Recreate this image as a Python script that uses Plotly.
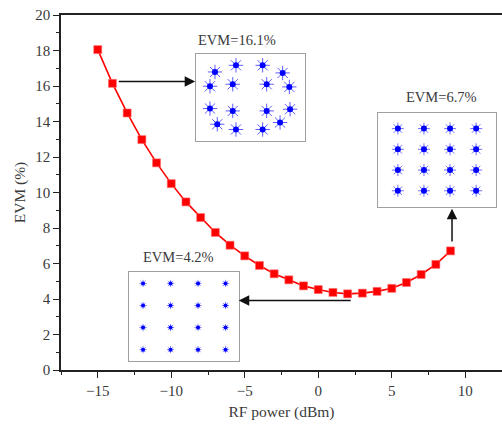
import plotly.graph_objects as go

# Main curve
rf_power = [-15, -14, -13, -12, -11, -10, -9, -8, -7, -6, -5, -4, -3, -2, -1,
            0, 1, 2, 3, 4, 5, 6, 7, 8, 9]
evm = [18.05, 16.15, 14.48, 12.98, 11.67, 10.5, 9.47, 8.59, 7.75, 7.03, 6.43,
       5.89, 5.42, 5.08, 4.74, 4.53, 4.37, 4.29, 4.33, 4.43, 4.6, 4.93, 5.38,
       5.95, 6.71]

x_ticks = [-15, -10, -5, 0, 5, 10]
y_ticks = [0, 2, 4, 6, 8, 10, 12, 14, 16, 18, 20]

# Constellation cluster centres (I/Q) for each inset
i_161 = [-1.22, 1.02, -2.98, 2.70, -3.4, -1.49, 1.36, 3.26,
         -3.4, -1.49, 1.36, 3.32, -2.79, -1.22, 1.02, 2.48]
q_161 = [3.37, 3.37, 2.67, 2.57, 1.17, 1.38, 1.38, 1.10,
         -1.17, -1.42, -1.42, -1.24, -2.82, -3.37, -3.37, -2.64]
i_67 = [-3, -1, 1, 3, -3, -1, 1, 3, -3, -1, 1, 3, -3, -1, 1, 3]
q_67 = [3, 3, 3, 3, 1, 1, 1, 1, -1, -1, -1, -1, -3, -3, -3, -3]
i_42 = [-3, -1, 1, 3, -3, -1, 1, 3, -3, -1, 1, 3, -3, -1, 1, 3]
q_42 = [3, 3, 3, 3, 1, 1, 1, 1, -1, -1, -1, -1, -3, -3, -3, -3]

labels = ["EVM=16.1%", "EVM=6.7%", "EVM=4.2%"]

FONT = "Liberation Serif, Times New Roman, serif"
TXT = "#3a3a3a"
BLUE = "#0000ff"

fig = go.Figure()

fig.add_trace(go.Scatter(
    x=rf_power, y=evm, mode="lines+markers",
    line=dict(color="#ff0000", width=1.6),
    marker=dict(symbol="square", size=8, color="#ff0000",
                line=dict(color="#ff7070", width=0.6)),
    showlegend=False, xaxis="x", yaxis="y"))

insets = [
    (i_161, q_161, "x2", "y2", 12, 0.8, 6),
    (i_67, q_67, "x3", "y3", 10, 0.7, 6),
    (i_42, q_42, "x4", "y4", 6, 0.6, 4),
]
for ii, qq, xa, ya, s1, w1, s2 in insets:
    fig.add_trace(go.Scatter(
        x=ii, y=qq, mode="markers", xaxis=xa, yaxis=ya, showlegend=False,
        marker=dict(symbol="asterisk-open", size=s1, opacity=0.8,
                    line=dict(color=BLUE, width=w1), color=BLUE)))
    fig.add_trace(go.Scatter(
        x=ii, y=qq, mode="markers", xaxis=xa, yaxis=ya, showlegend=False,
        marker=dict(symbol="circle", size=s2, color=BLUE)))

inset_axis = dict(showticklabels=False, ticks="", showgrid=False,
                  zeroline=False, showline=True, mirror=True,
                  linecolor="#a0a0a0", linewidth=1, fixedrange=True,
                  automargin=False)

fig.update_layout(
    width=502, height=426,
    margin=dict(l=61, r=0, t=15, b=56, autoexpand=False),
    paper_bgcolor="white", plot_bgcolor="white",
    font=dict(family=FONT, size=14, color=TXT),
    xaxis=dict(
        range=[-17.5, 12.5], tickvals=x_ticks, ticks="outside", ticklen=6,
        tickwidth=1.3, tickcolor="#222", showline=True, linecolor="#222",
        linewidth=1.5, mirror=True, showgrid=False, zeroline=False,
        automargin=False,
        tickfont=dict(size=15, family=FONT, color=TXT),
        minor=dict(dtick=2.5, tick0=0, ticks="outside", ticklen=3.5,
                   tickwidth=1.2, tickcolor="#222", showgrid=False),
        title=dict(text="RF power (dBm)", standoff=8,
                   font=dict(size=15.5, family=FONT, color=TXT)),
        domain=[0, 1]),
    yaxis=dict(
        range=[0, 20], tickvals=y_ticks, ticks="outside", ticklen=6,
        tickwidth=1.3, tickcolor="#222", showline=True, linecolor="#222",
        linewidth=1.5, mirror=False, showgrid=False, zeroline=False,
        automargin=False,
        tickfont=dict(size=15, family=FONT, color=TXT),
        minor=dict(dtick=1, tick0=0, ticks="outside", ticklen=3.5,
                   tickwidth=1.2, tickcolor="#222", showgrid=False),
        title=dict(text="EVM (%)", standoff=6,
                   font=dict(size=15.5, family=FONT, color=TXT)),
        domain=[0, 1]),
    xaxis2=dict(inset_axis, domain=[0.3054, 0.554], range=[-4.6, 4.6], anchor="y2"),
    yaxis2=dict(inset_axis, domain=[0.6445, 0.8913], range=[-4.6, 4.6], anchor="x2"),
    xaxis3=dict(inset_axis, domain=[0.7195, 0.9857], range=[-4.5, 4.5], anchor="y3"),
    yaxis3=dict(inset_axis, domain=[0.4596, 0.7253], range=[-4.55, 4.55], anchor="x3"),
    xaxis4=dict(inset_axis, domain=[0.1549, 0.4043], range=[-4, 4], anchor="y4"),
    yaxis4=dict(inset_axis, domain=[0.0262, 0.275], range=[-4, 4], anchor="x4"),
)

# Inset titles
for txt, xx, yy in [(labels[0], -5.5, 18.57), (labels[1], 8.4, 15.36),
                    (labels[2], -9.52, 6.34)]:
    fig.add_annotation(x=xx, y=yy, xref="x", yref="y", text=txt,
                       showarrow=False,
                       font=dict(size=14.5, family=FONT, color=TXT))

# Arrows
arrow_style = dict(xref="x", yref="y", axref="x", ayref="y", text="",
                   showarrow=True, arrowhead=2, arrowsize=1.4,
                   arrowwidth=1.5, arrowcolor="#111")
fig.add_annotation(x=-8.37, y=16.26, ax=-13.67, ay=16.26, **arrow_style)
fig.add_annotation(x=9.1, y=9.08, ax=9.1, ay=7.16, **arrow_style)
fig.add_annotation(x=-5.41, y=3.92, ax=2.31, ay=3.92, **arrow_style)

fig.write_html(
    "out.html",
    config={"displayModeBar": False},
    post_script="document.body.style.margin='0';"
                "document.body.style.overflow='hidden';",
)
